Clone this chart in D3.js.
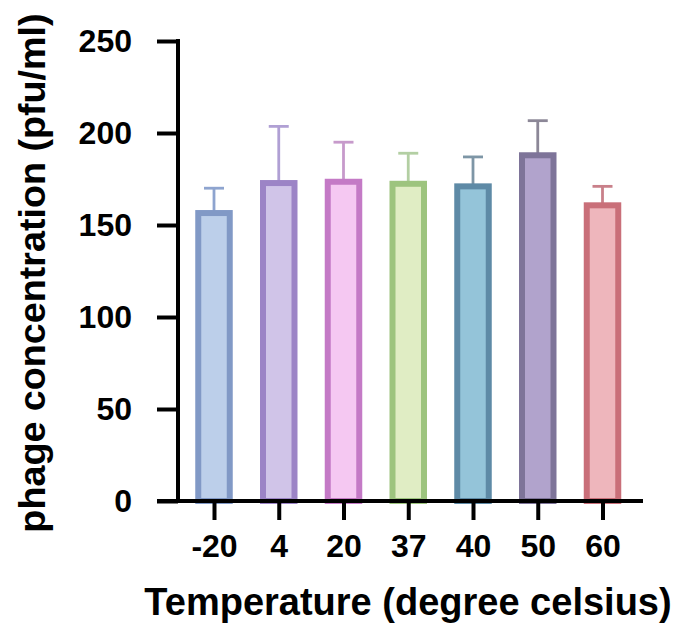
<!DOCTYPE html>
<html>
<head>
<meta charset="utf-8">
<script src="https://cdn.jsdelivr.net/npm/d3@7"></script>
<style>
  html, body { margin: 0; padding: 0; background: #ffffff; }
  svg { display: block; }
  text { font-family: "Liberation Sans", Arial, Helvetica, sans-serif; font-weight: bold; fill: #000; }
</style>
</head>
<body>
<script>
// ---- data ----
const categories = ["-20", "4", "20", "37", "40", "50", "60"];
const means      = [156.5, 172.8, 173.5, 172.4, 171.0, 187.9, 160.7];
const errors     = [13.5, 30.8, 21.5, 16.6, 16.0, 18.8, 10.3];
const yTicks     = [0, 50, 100, 150, 200, 250];
const fillColors   = ["#bccfea", "#d0c4e8", "#f5c8f2", "#e0edc4", "#94c4d9", "#b1a3cc", "#eeb6bc"];
const strokeColors = ["#8199c6", "#9c84c6", "#c47ac6", "#9dc47e", "#5e8aa6", "#7e7499", "#c96f79"];
const errorColors  = ["#8ea4cf", "#b0a0d4", "#c79acb", "#b3cfa3", "#7e96a6", "#8c8797", "#c9808a"];
const xTitle = "Temperature (degree celsius)";
const yTitle = "phage concentration (pfu/ml)";

// ---- layout ----
const W = 681, H = 627;
const axisX = 178, axisY = 501, axisTop = 41;
const xLineLeft = 157, xLineRight = 643;

const svg = d3.select("body").append("svg").attr("width", W).attr("height", H);

const y = d3.scaleLinear().domain([0, 250]).range([axisY, axisTop]);
const x = d3.scalePoint().domain(categories).range([214, 602.5]);

const barW = 31.5, barStroke = 6, capW = 20;

const data = categories.map((c, i) => ({ c, m: means[i], e: errors[i], i }));

// error bars (behind bars)
const eb = svg.append("g");
eb.selectAll("line.v").data(data).enter().append("line")
  .attr("x1", d => x(d.c)).attr("x2", d => x(d.c))
  .attr("y1", d => y(d.m)).attr("y2", d => y(d.m + d.e))
  .attr("stroke", d => errorColors[d.i]).attr("stroke-width", 2.8);
eb.selectAll("line.cap").data(data).enter().append("line")
  .attr("x1", d => x(d.c) - capW / 2).attr("x2", d => x(d.c) + capW / 2)
  .attr("y1", d => y(d.m + d.e)).attr("y2", d => y(d.m + d.e))
  .attr("stroke", d => errorColors[d.i]).attr("stroke-width", 2.8);

// bars
svg.append("g").selectAll("rect").data(data).enter().append("rect")
  .attr("x", d => x(d.c) - barW / 2)
  .attr("y", d => y(d.m))
  .attr("width", barW)
  .attr("height", d => y(0) - y(d.m))
  .attr("fill", d => fillColors[d.i])
  .attr("stroke", d => strokeColors[d.i])
  .attr("stroke-width", barStroke);

// y axis
const yAxis = svg.append("g").attr("transform", `translate(${axisX},0)`)
  .call(d3.axisLeft(y).tickValues(yTicks).tickSize(21).tickPadding(25).tickFormat(d3.format("d")));
yAxis.select(".domain").remove();
yAxis.selectAll(".tick line").attr("stroke", "#000").attr("stroke-width", 4);
yAxis.selectAll(".tick text").attr("font-size", 32).style("font-family", "'Liberation Sans', Arial, sans-serif").style("font-weight", "bold");
svg.append("line").attr("x1", axisX).attr("x2", axisX).attr("y1", axisTop - 2).attr("y2", axisY)
  .attr("stroke", "#000").attr("stroke-width", 4);

// x axis
const xAxis = svg.append("g").attr("transform", `translate(0,${axisY})`)
  .call(d3.axisBottom(x).tickSize(19).tickPadding(14));
xAxis.select(".domain").remove();
xAxis.selectAll(".tick line").attr("stroke", "#000").attr("stroke-width", 4);
xAxis.selectAll(".tick text").attr("font-size", 32).style("font-family", "'Liberation Sans', Arial, sans-serif").style("font-weight", "bold");
svg.append("line").attr("x1", xLineLeft).attr("x2", xLineRight).attr("y1", axisY).attr("y2", axisY)
  .attr("stroke", "#000").attr("stroke-width", 4);

// titles
svg.append("text").attr("x", 408).attr("y", 615).attr("text-anchor", "middle")
  .attr("font-size", 38).text(xTitle);
svg.append("text").attr("transform", "translate(45,273) rotate(-90)").attr("text-anchor", "middle")
  .attr("font-size", 37.7).text(yTitle);
</script>
</body>
</html>
